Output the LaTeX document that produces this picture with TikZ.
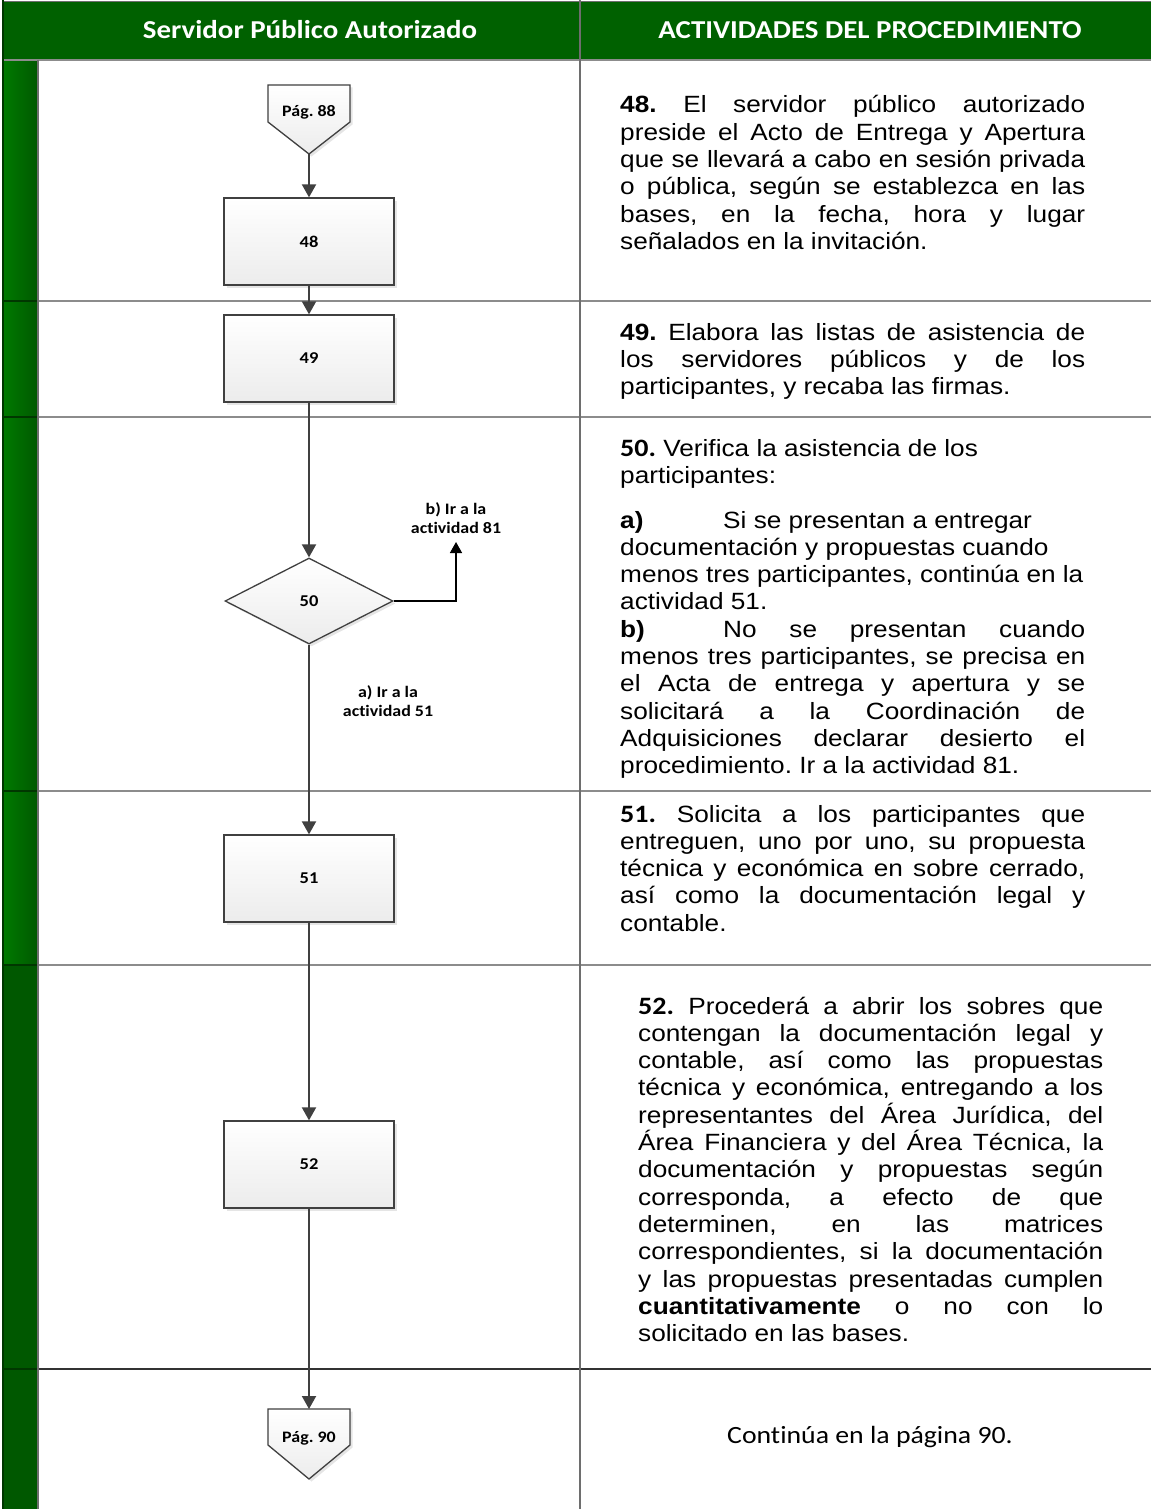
\documentclass[tikz,border=0pt]{standalone}
\usepackage{fontspec}
\setmainfont{Liberation Sans}[FakeStretch=1.115]
\newfontfamily\carlito{Carlito}[FakeStretch=1.12, Ligatures=NoCommon]
\usetikzlibrary{shapes.geometric,shadows,arrows.meta}
\frenchspacing
\definecolor{hdrgreen}{RGB}{0,97,0}
\definecolor{stripeL}{RGB}{0,122,0}
\definecolor{stripeR}{RGB}{0,88,0}
\definecolor{stripeD}{RGB}{0,88,0}
\definecolor{stripeline}{RGB}{0,55,0}
\definecolor{boxline}{RGB}{64,64,64}
\definecolor{boxbot}{RGB}{236,236,236}
\definecolor{arrowgray}{RGB}{64,64,64}
\definecolor{rowgray}{RGB}{140,140,140}
\definecolor{colgray}{RGB}{110,110,110}
\newcommand\jline[1]{\makebox[\linewidth][s]{#1}\\}
\newcommand\tabcell[1]{\makebox[103pt][l]{\textbf{#1}}}
\newcommand\bodyfont{\fontsize{23.5}{27.3}\selectfont\frenchspacing}
\tikzset{
  hdr/.style={anchor=base, inner sep=0pt, text=white, font=\carlito\bfseries\fontsize{25.8}{30}\selectfont},
  proc/.style={rectangle, draw=boxline, line width=1.3pt, minimum width=170pt, minimum height=87pt,
    inner sep=0pt, top color=white, bottom color=boxbot,
    drop shadow={shadow xshift=2.5pt, shadow yshift=-2.5pt, opacity=0.10, fill=black},
    font=\carlito\bfseries\fontsize{16.5}{19}\selectfont},
  decision/.style={diamond, draw=boxline, line width=1.3pt, minimum width=168pt, minimum height=86pt,
    aspect=1.95, inner sep=0pt, top color=white, bottom color=boxbot,
    drop shadow={shadow xshift=2.5pt, shadow yshift=-2.5pt, opacity=0.10, fill=black},
    font=\carlito\bfseries\fontsize{16.5}{19}\selectfont},
  offpage/.style={draw=boxline, line width=1.3pt, top color=white, bottom color=boxbot,
    drop shadow={shadow xshift=2.5pt, shadow yshift=-2.5pt, opacity=0.10, fill=black}},
  offtext/.style={anchor=base, inner sep=0pt, font=\carlito\bfseries\fontsize{16}{19}\selectfont},
  flow/.style={draw=arrowgray, line width=2pt, -{Triangle[length=13pt,width=14pt]}},
  flowb/.style={draw=black, line width=1.5pt, -{Triangle[length=11pt,width=12pt]}},
  lbl/.style={anchor=base, inner sep=0pt, font=\carlito\bfseries\fontsize{16}{19}\selectfont},
  desc/.style={anchor=base west, inner sep=0pt},
  rowline/.style={draw=rowgray, line width=1.5pt},
  sline/.style={draw=stripeline, line width=1.5pt},
}
\begin{document}
\begin{tikzpicture}[x=1pt,y=-1pt]
\useasboundingbox (0,0) rectangle (1151,1509);
\fill[white] (0,0) rectangle (1151,1509);
% stripe
\shade[left color=stripeL, right color=stripeR] (3,60) rectangle (38,965);
\fill[stripeD] (3,965) rectangle (38,1509);
% header
\fill[hdrgreen] (3,1.5) rectangle (1151,60);
\draw[draw=colgray, line width=1.5pt] (3,1.5) -- (1151,1.5);
\draw[rowline] (3,60) -- (1151,60);
\node[hdr] (h1) at (310,38.3) {Servidor Público Autorizado};
\node[hdr] (h2) at (870,38.3) {ACTIVIDADES DEL PROCEDIMIENTO};
% row lines
\draw[rowline] (38,301) -- (1151,301);
\draw[rowline] (38,417) -- (1151,417);
\draw[rowline] (38,791) -- (1151,791);
\draw[rowline] (38,965) -- (1151,965);
\draw[draw=black!80, line width=1.5pt] (38,1369) -- (1151,1369);
\draw[sline] (3,301) -- (38,301);
\draw[sline] (3,417) -- (38,417);
\draw[sline] (3,791) -- (38,791);
\draw[sline] (3,965) -- (38,965);
\draw[sline] (3,1369) -- (38,1369);
% vertical lines
\draw[draw=stripeline, line width=1.5pt] (3,0) -- (3,1509);
\draw[draw=colgray, line width=1.5pt] (38,60) -- (38,1509);
\draw[draw=colgray, line width=2pt] (580,0) -- (580,1509);
% off-page connectors
\path[offpage] (268,85) -- (350,85) -- (350,122) -- (309,154) -- (268,122) -- cycle;
\node[offtext] (p88) at (309,117) {Pág. 88};
\coordinate (p88tip) at (309,154);
\path[offpage] (268,1409) -- (350,1409) -- (350,1445) -- (309,1479) -- (268,1445) -- cycle;
\node[offtext] (p90) at (309,1442) {Pág. 90};
\coordinate (p90top) at (309,1409);
% process boxes
\node[proc] (b48) at (309,241.5) {48};
\node[proc] (b49) at (309,358.5) {49};
\node[decision] (d50) at (309,601) {50};
\node[proc] (b51) at (309,878.5) {51};
\node[proc] (b52) at (309,1164.5) {52};
\coordinate (b81) at (456,542);
% connectors
\draw[flow] (p88tip) -- (b48.north);
\draw[flow] (b48.south) -- (b49.north);
\draw[flow] (b49.south) -- (d50.north);
\draw[flowb] (d50.east) -| (b81);
\draw[flow] (d50.south) -- (b51.north);
\draw[flow] (b51.south) -- (b52.north);
\draw[flow] (b52.south) -- (p90top);
% branch labels
\node[lbl] (lb) at (456,514) {\parbox[t]{140pt}{\centering b) Ir a la\\actividad 81}};
\node[lbl] (la) at (388,697) {\parbox[t]{140pt}{\centering a) Ir a la\\actividad 51}};
% descriptions
\node[desc] (t48) at (620,113) {\parbox[t]{465pt}{\bodyfont
\jline{\textbf{48.} El servidor público autorizado}
\jline{preside el Acto de Entrega y Apertura}
\jline{que se llevará a cabo en sesión privada}
\jline{o pública, según se establezca en las}
\jline{bases, en la fecha, hora y lugar}
señalados en la invitación.}};
\node[desc] (t49) at (620,340) {\parbox[t]{465pt}{\bodyfont
\jline{\textbf{49.} Elabora las listas de asistencia de}
\jline{los servidores públicos y de los}
participantes, y recaba las firmas.}};
\node[desc] (t50) at (620,456) {\parbox[t]{465pt}{\bodyfont
{\carlito\bfseries\fontsize{25}{27.3}\selectfont 50.} Verifica la asistencia de los\\
participantes:\\[17.4pt]
\tabcell{a)}Si se presentan a entregar\\
documentación y propuestas cuando\\
menos tres participantes, continúa en la\\
actividad 51.\\
\tabcell{b)}\makebox[362pt][s]{No se presentan cuando}\\
\jline{menos tres participantes, se precisa en}
\jline{el Acta de entrega y apertura y se}
\jline{solicitará a la Coordinación de}
\jline{Adquisiciones declarar desierto el}
procedimiento. Ir a la actividad 81.}};
\node[desc] (t51) at (620,822) {\parbox[t]{465pt}{\bodyfont
\jline{{\carlito\bfseries\fontsize{25}{27.3}\selectfont 51.} Solicita a los participantes que}
\jline{entreguen, uno por uno, su propuesta}
\jline{técnica y económica en sobre cerrado,}
\jline{así como la documentación legal y}
contable.}};
\node[desc] (t52) at (638,1014) {\parbox[t]{465pt}{\bodyfont
\jline{{\carlito\bfseries\fontsize{25}{27.3}\selectfont 52.} Procederá a abrir los sobres que}
\jline{contengan la documentación legal y}
\jline{contable, así como las propuestas}
\jline{técnica y económica, entregando a los}
\jline{representantes del Área Jurídica, del}
\jline{Área Financiera y del Área Técnica, la}
\jline{documentación y propuestas según}
\jline{corresponda, a efecto de que}
\jline{determinen, en las matrices}
\jline{correspondientes, si la documentación}
\jline{y las propuestas presentadas cumplen}
\jline{\textbf{cuantitativamente} o no con lo}
solicitado en las bases.}};
\node[anchor=base, inner sep=0pt, font=\carlito\fontsize{24.8}{29}\selectfont] (t90) at (870,1443) {Continúa en la página 90.};
\end{tikzpicture}
\end{document}
